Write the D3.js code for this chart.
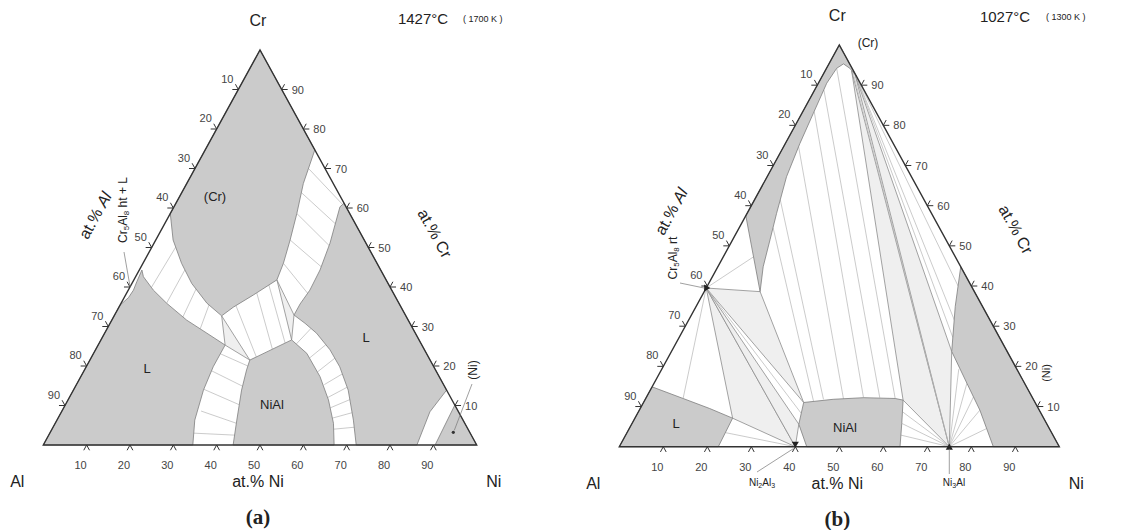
<!DOCTYPE html>
<html>
<head>
<meta charset="utf-8">
<script src="https://cdn.jsdelivr.net/npm/d3@7"></script>
<style>
body { margin: 0; background: #fff; }
svg text { font-family: "Liberation Sans", Arial, sans-serif; fill: #222; }
.region { fill: #cbcbcb; stroke: #7d7d7d; stroke-width: 0.8; }
.three { fill: #efefef; stroke: #8c8c8c; stroke-width: 0.8; }
.tie { fill: none; stroke: #b5b5b5; stroke-width: 0.7; }
.frame { fill: none; stroke: #333; stroke-width: 1.4; }
.tick { fill: none; stroke: #333; stroke-width: 1; }
.ticklab { font-size: 11px; fill: #444; }
.lead { stroke: #777; stroke-width: 0.7; }
</style>
</head>
<body>
<svg id="chart" width="1130" height="530"></svg>
<script>
// all compositions are [at.% Ni, at.% Cr], Al is the rest
var ticks = [10, 20, 30, 40, 50, 60, 70, 80, 90];

// ---- (a) 1427 C ----
var aCr = [[0,100],[0,58.6],[4.0,51.9],[8.9,46.0],[13.8,40.9],[19.8,35.9],[24.8,32.7],[26.4,34.9],[29.5,38.0],
    [33.0,41.8],[32.4,46.0],[31.0,51.9],[29.2,58.6],[26.9,66.2],[25.3,74.7]];
var aLiqAl = [[0.6,44.3],[0.9,41.4],[1.2,39.2],[1.0,37.3],[0,35.4],[0,0],[34.5,0],[31.8,6.3],[30.0,13.9],
    [29.3,19.8],[29.3,25.3],[23.6,28.3],[17.3,31.6],[10.5,35.9],[5.8,39.2],[1.8,42.6]];
var aNiAl = [[36.9,21.5],[38.3,22.5],[44.0,26.6],[49.2,23.2],[55.2,17.3],[60.1,11.4],[64.2,5.5],[67.1,0],
    [43.8,0],[41.5,6.3],[38.8,13.9],[37.4,19.0]];
var aLiqNi = [[38.8,61.2],[86.1,13.9],[85.0,8.4],[86.2,0],[72.2,0],[68.4,6.3],[63.4,13.9],[58.5,19.8],
    [54.1,24.1],[48.9,28.3],[45.0,30.8],[41.4,32.9],[41.4,35.7],[41.9,39.2],[41.7,44.3],[40.6,51.1],[38.3,60.3]];
var aNi = [[89.9,10.1],[100,0],[90.4,0]];
var aThree = [
    [[24.8,32.7],[29.3,25.3],[36.9,21.5]],
    [[33.0,41.8],[41.4,32.9],[44.0,26.6]]
];
var aTies = [
    [[5.5,50.1],[5.0,39.9]], [[10.5,44.3],[10.5,35.9]], [[15.5,39.5],[16.0,32.4]], [[20.5,35.5],[21.5,29.4]],
    [[26.8,35.3],[38.0,22.3]], [[30.0,38.5],[40.7,24.3]], [[31.8,40.5],[42.9,25.8]],
    [[32.4,46.0],[41.8,38.4]], [[31.0,51.9],[41.6,45.1]], [[29.2,58.6],[40.7,50.5]], [[27.6,63.9],[39.4,56.0]], [[26.2,70.0],[38.6,60.9]],
    [[33.2,3.0],[42.9,2.5]], [[32.1,8.6],[41.8,5.5]], [[30.0,14.1],[40.1,10.2]], [[29.4,18.8],[38.5,14.9]], [[29.3,23.1],[37.2,20.0]],
    [[45.6,25.6],[47.0,29.5]], [[50.4,22.0],[52.5,25.4]], [[54.0,18.5],[56.3,22.0]], [[57.2,15.3],[60.0,18.0]],
    [[59.6,12.0],[62.9,14.7]], [[61.5,9.4],[65.0,11.5]], [[63.3,6.8],[67.2,8.2]], [[65.0,4.0],[69.5,4.5]]
];
var aNiDot = [93.0, 3.2];
var aNotch = [0.5, 40];

// ---- (b) 1027 C ----
var cr5al8 = [0, 39.5], ni2al3 = [40, 0], ni3al = [75, 0];
var bCr = [[0,100],[0,57.5],[12.7,38.6],[10.3,44.8],[8.5,51.5],[6.7,58.1],[4.4,67.2],[3.3,75.5],[2.6,83.0],
    [1.9,90.5],[2.3,94.2],[3.3,95.3],[5.3,94.2],[7.7,92.3]];
var bLiq = [[0,14.9],[8.5,12.0],[15.8,9.5],[22.2,7.1],[22.5,0],[0,0]];
var bNiAl = [[36.4,11.0],[42.7,11.8],[49.4,12.2],[56.7,12.0],[58.7,11.6],[61.3,5.8],[63.8,0],[42.6,0],[38.0,5.6]];
var bNi = [[55.2,44.8],[100,0],[85.0,0],[77.4,9.1],[71.1,15.8],[63.7,23.7],[58.9,34.9]];
var bThree = [
    [cr5al8, [22.2,7.1], ni2al3],
    [cr5al8, ni2al3, [38.0,5.6]],
    [cr5al8, [12.7,38.6], [36.4,11.0]],
    [[6.0,93.6], [58.7,11.6], ni3al],
    [[7.3,92.6], ni3al, [63.7,23.7]]
];
var bTies = [
    [cr5al8,[6.9,47.3]], [cr5al8,[8.5,12.0]], [cr5al8,[37.2,8.3]], [[22.4,3.5],ni2al3],
    [[7.7,54.5],[38.5,11.3]], [[5.9,61.4],[40.5,11.8]], [[3.4,74.7],[45.0,11.9]], [[2.6,83.4],[49.4,12.2]],
    [[2.1,88.8],[53.1,12.2]], [[2.3,94.2],[56.7,12.0]],
    [[60.0,8.7],ni3al], [[61.3,5.8],ni3al], [[62.5,2.9],ni3al],
    [[67.5,19.3],ni3al], [[71.1,15.8],ni3al], [[74.3,12.4],ni3al], [[77.4,9.1],ni3al], [[81.2,4.5],ni3al],
    [[7.7,92.3],[57.0,40.0]], [[7.6,92.4],[60.4,31.5]], [[7.5,92.5],[62.2,27.2]], [[6.6,93.1],ni3al]
];

var svg = d3.select("#chart");

function panel(frame, d) {
    var g = svg.append("g");
    var xs = d3.scaleLinear().domain([0, 100]).range([frame.al[0], frame.ni[0]]);
    var ys = d3.scaleLinear().domain([0, 100]).range([frame.al[1], frame.top]);
    var pt = function(c) { return [xs(c[0] + c[1] / 2), ys(c[1])]; };
    var line = d3.line().x(function(c) { return pt(c)[0]; }).y(function(c) { return pt(c)[1]; });
    var poly = function(c) { return line(c) + "Z"; };

    g.selectAll(".three").data(d.three).enter().append("path")
        .attr("class", "three").attr("d", poly);
    g.selectAll(".tie").data(d.ties).enter().append("path")
        .attr("class", "tie").attr("d", line);
    g.selectAll(".region").data(d.regions).enter().append("path")
        .attr("class", "region").attr("d", poly);
    g.append("path").attr("class", "frame").attr("d", poly([[0,0],[100,0],[0,100]]));

    // tick chevrons, legs run parallel to the other two sides
    var A = pt([0,0]), N = pt([100,0]), C = pt([0,100]);
    function unit(p, q) { var dx = q[0]-p[0], dy = q[1]-p[1], l = Math.hypot(dx, dy); return [dx/l, dy/l]; }
    var uL = unit(C, A), uR = unit(C, N), uB = [1, 0];
    var len = 6;
    function chevron(p, u1, u2) {
        return "M" + (p[0] + u1[0]*len) + "," + (p[1] + u1[1]*len) + "L" + p[0] + "," + p[1] +
            "L" + (p[0] + u2[0]*len) + "," + (p[1] + u2[1]*len);
    }
    ticks.forEach(function(t) {
        var pb = pt([t, 0]), pl = pt([0, 100 - t]), pr = pt([100 - t, t]);
        g.append("path").attr("class", "tick").attr("d", chevron(pb, uL, uR));
        g.append("path").attr("class", "tick").attr("d", chevron(pl, [-uB[0], 0], [-uR[0], -uR[1]]));
        g.append("path").attr("class", "tick").attr("d", chevron(pr, uB, [-uL[0], -uL[1]]));
        g.append("text").attr("class", "ticklab").attr("text-anchor", "middle")
            .attr("x", pb[0] - 6).attr("y", pb[1] + 24).text(t);
        g.append("text").attr("class", "ticklab").attr("text-anchor", "middle")
            .attr("x", pl[0] - 11).attr("y", pl[1] - 7).text(t);
        g.append("text").attr("class", "ticklab").attr("text-anchor", "start")
            .attr("x", pr[0] + 10).attr("y", pr[1] + 4).text(t);
    });

    function txt(x, y, s, size, rot, anchor) {
        var t = g.append("text").attr("x", x).attr("y", y).attr("font-size", size)
            .attr("text-anchor", anchor || "middle").text(s);
        if (rot) t.attr("transform", "rotate(" + rot + "," + x + "," + y + ")");
        return t;
    }
    txt(C[0] - 2, C[1] - 24, "Cr", 16);
    txt(A[0] - 26, A[1] + 42, "Al", 16);
    txt(N[0] + 17, N[1] + 42, "Ni", 16);
    txt(C[0] - 2, A[1] + 42, "at.% Ni", 16);
    var al = txt(frame.alLab[0], frame.alLab[1], "at.% ", 16, -61);
    al.append("tspan").style("font-style", "italic").text("Al");
    txt(frame.crLab[0], frame.crLab[1], "at.% Cr", 16, 61);
    g.append("text").attr("x", C[0] - 2).attr("y", A[1] + 79).attr("text-anchor", "middle")
        .style("font-family", "'Liberation Serif', serif").style("font-weight", "bold")
        .attr("font-size", 21).text(frame.name);
    txt(frame.temp[0], frame.temp[1], frame.tempText, 15);
    txt(frame.kel[0], frame.kel[1], frame.kelText, 9, 0, "start");
    return {g: g, pt: pt, txt: txt};
}

function sub(t, parts, big, small) {
    parts.forEach(function(p) {
        t.append("tspan").attr("font-size", p[1] ? small : big).attr("dy", p[1] ? 2 : (p[2] || 0)).text(p[0]);
    });
}

// ---------- (a) ----------
var pa = panel({al: [43.3, 445], ni: [476.7, 445], top: 50, name: "(a)",
        alLab: [100, 218], crLab: [430, 236], temp: [423, 24], tempText: "1427°C",
        kel: [463, 22], kelText: "( 1700 K )"},
    {regions: [aCr, aLiqAl, aNiAl, aLiqNi, aNi], three: aThree, ties: aTies});
pa.txt(215, 201, "(Cr)", 13);
pa.txt(147, 373, "L", 13);
pa.txt(366, 342, "L", 13);
pa.txt(272, 409, "NiAl", 13);
pa.txt(477, 370, "(Ni)", 12, -90);
var dot = pa.pt(aNiDot);
pa.g.append("circle").attr("cx", dot[0]).attr("cy", dot[1]).attr("r", 1.6).attr("fill", "#333");
pa.g.append("line").attr("class", "lead").attr("x1", 472).attr("y1", 384).attr("x2", dot[0] + 1).attr("y2", dot[1] - 2);
sub(pa.txt(127, 210, "", 12, -90), [["Cr"], ["5", 1], ["Al", 0, -2], ["8", 1], [" ht + L", 0, -2]], 12, 8);
var nt = pa.pt(aNotch);
pa.g.append("line").attr("class", "lead").attr("x1", 124).attr("y1", 252).attr("x2", nt[0] - 2).attr("y2", nt[1]);

// ---------- (b) ----------
var pb = panel({al: [619.3, 446.7], ni: [1059.3, 446.7], top: 45, name: "(b)",
        alLab: [676, 214], crLab: [1011, 232], temp: [1005, 22], tempText: "1027°C",
        kel: [1046, 20], kelText: "( 1300 K )"},
    {regions: [bCr, bLiq, bNiAl, bNi], three: bThree, ties: bTies});
pb.txt(868, 47, "(Cr)", 12);
pb.txt(676, 428, "L", 13);
pb.txt(845, 432, "NiAl", 13);
pb.txt(1050, 373, "(Ni)", 11, -90);

var tri = d3.symbol().type(d3.symbolTriangle).size(22);
[[cr5al8, 90], [ni2al3, 180], [ni3al, 0]].forEach(function(m) {
    var p = pb.pt(m[0]);
    pb.g.append("path").attr("d", tri).attr("fill", "#222")
        .attr("transform", "translate(" + p[0] + "," + (p[1] + (m[1] === 180 ? -3 : m[1] === 0 ? 1 : 0)) + ") rotate(" + m[1] + ")");
});
sub(pb.txt(677, 258, "", 12, -90), [["Cr"], ["5", 1], ["Al", 0, -2], ["8", 1], [" rt", 0, -2]], 12, 8);
var pc = pb.pt(cr5al8);
pb.g.append("line").attr("class", "lead").attr("x1", 680).attr("y1", 283).attr("x2", pc[0] - 2).attr("y2", pc[1]);

sub(pb.txt(762, 486, "", 10), [["Ni"], ["2", 1], ["Al", 0, -2], ["3", 1]], 10, 7);
sub(pb.txt(954, 486, "", 10), [["Ni"], ["3", 1], ["Al", 0, -2]], 10, 7);
var p2 = pb.pt(ni2al3), p3 = pb.pt(ni3al);
pb.g.append("line").attr("class", "lead").attr("x1", 757).attr("y1", 472).attr("x2", p2[0] - 2).attr("y2", p2[1] + 2);
pb.g.append("line").attr("class", "lead").attr("x1", p3[0]).attr("y1", p3[1] + 2).attr("x2", p3[0]).attr("y2", 474);
</script>
</body>
</html>
